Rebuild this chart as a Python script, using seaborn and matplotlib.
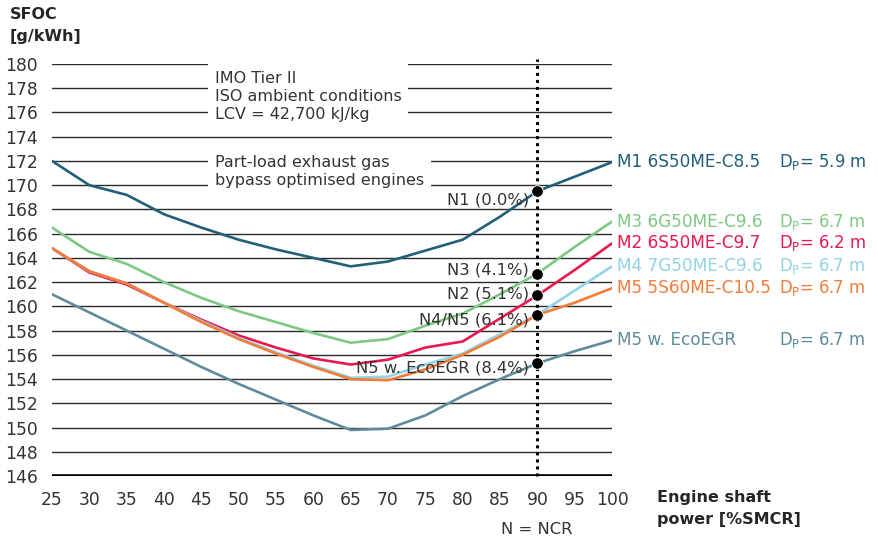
import numpy as np
import pandas as pd
import seaborn as sns
import matplotlib
matplotlib.use("Agg")
import matplotlib.pyplot as plt

### data

load = [25, 30, 35, 40, 45, 50, 55, 60, 65, 70, 75, 80, 85, 90, 95, 100]

m1 = [172.0, 170.0, 169.2, 167.6, 166.5, 165.5, 164.7, 164.0, 163.3, 163.7, 164.6, 165.5, 167.4, 169.5, 170.7, 171.9]
m3 = [166.5, 164.5, 163.5, 162.0, 160.7, 159.6, 158.7, 157.8, 157.0, 157.3, 158.4, 159.4, 161.0, 162.7, 164.9, 167.0]
m2 = [164.8, 162.8, 161.8, 160.3, 158.9, 157.6, 156.6, 155.7, 155.2, 155.6, 156.6, 157.1, 159.0, 160.9, 163.0, 165.2]
m4 = [164.8, 162.9, 161.9, 160.3, 158.8, 157.4, 156.2, 155.1, 154.1, 154.2, 155.2, 156.1, 157.7, 159.3, 161.3, 163.3]
m5 = [164.8, 162.9, 161.9, 160.3, 158.7, 157.3, 156.1, 155.0, 154.0, 153.9, 154.8, 156.0, 157.5, 159.3, 160.3, 161.5]
egr = [161.0, 159.5, 158.0, 156.5, 155.0, 153.6, 152.3, 151.0, 149.8, 149.9, 151.0, 152.6, 154.0, 155.3, 156.3, 157.2]

names = ["M1 6S50ME-C8.5", "M3 6G50ME-C9.6", "M2 6S50ME-C9.7",
         "M4 7G50ME-C9.6", "M5 5S60ME-C10.5", "M5 w. EcoEGR"]
dp = ["5.9", "6.7", "6.2", "6.7", "6.7", "6.7"]
colors = ["#22607a", "#7dc882", "#e8194f", "#92d3e4", "#f47b3a", "#5f8c9c"]

ncr_labels = ["N1 (0.0%)", "N3 (4.1%)", "N2 (5.1%)", "N4/N5 (6.1%)", "N5 w. EcoEGR (8.4%)"]
ncr_values = [169.5, 162.65, 160.95, 159.25, 155.3]
ncr_text_y = [168.8, 163.0, 161.0, 158.9, 154.9]

yticks = list(range(146, 181, 2))
xticks = list(range(25, 101, 5))

rows = []
for nm, vals in zip(names, [m1, m3, m2, m4, m5, egr]):
    for x, v in zip(load, vals):
        rows.append({"load": x, "sfoc": v, "engine": nm})
df = pd.DataFrame(rows)

sns.set_style("white")
plt.rcParams['font.family'] = ['DejaVu Sans']
plt.rcParams['mathtext.fontset'] = 'dejavusans'
txt = "#333333"

fig = plt.figure(figsize=(8.79, 5.42), dpi=100)
ax = fig.add_axes([52/879, 1-476/542, 560/879, 412/542])

# grid lines
for yv in yticks[1:]:
    ax.axhline(yv, color="#2b2b2b", lw=1.0, zorder=1)
ax.axhline(146, color="black", lw=2.6, zorder=1)

sns.lineplot(data=df, x="load", y="sfoc", hue="engine", palette=colors,
             hue_order=names, lw=1.9, legend=False, ax=ax, zorder=3)

ax.plot([90, 90], [146, 180.4], color="black", ls=(0, (1, 1.3)), lw=2.2, zorder=4, clip_on=False)
sns.scatterplot(x=[90]*len(ncr_values), y=ncr_values, color="black", s=70, ax=ax, zorder=5, legend=False)

for lab, ty in zip(ncr_labels, ncr_text_y):
    ax.text(88.9, ty, lab, ha="right", va="center", fontsize=11.8, color=txt, zorder=4)

ax.set_xlim(25, 100)
ax.set_ylim(146, 180)
ax.set_xticks(xticks)
ax.set_yticks(yticks)
ax.tick_params(axis="both", length=0, labelsize=12.3, colors=txt)
ax.tick_params(axis="y", pad=10)
ax.tick_params(axis="x", pad=11)
for s in ax.spines.values():
    s.set_visible(False)
ax.set_xlabel("")
ax.set_ylabel("")

# note box covering grid lines
ax.text(46.8, 179.4, "IMO Tier II\nISO ambient conditions\nLCV = 42,700 kJ/kg",
        ha="left", va="top", fontsize=11.5, color=txt, linespacing=1.25, zorder=2,
        bbox=dict(facecolor="white", edgecolor="none", pad=5))
ax.text(46.8, 172.5, "Part-load exhaust gas\nbypass optimised engines",
        ha="left", va="top", fontsize=11.5, color=txt, linespacing=1.25, zorder=2,
        bbox=dict(facecolor="white", edgecolor="none", pad=5))

# series labels on the right
ends = [m1[-1], m3[-1], m2[-1], m4[-1], m5[-1], egr[-1]]
for nm, d, c, yv in zip(names, dp, colors, ends):
    ax.text(100.7, yv, nm, ha="left", va="center", fontsize=12.2, color=c, clip_on=False)
    ax.text(122.4, yv, r"D$_\mathregular{P}$= " + d + " m", ha="left", va="center",
            fontsize=11.9, color=c, clip_on=False)

fig.text(10/879, 1-7/542, "SFOC\n[g/kWh]", ha="left", va="top", fontsize=11.5,
         fontweight="bold", linespacing=1.55)
fig.text(657/879, 1-490/542, "Engine shaft\npower [%SMCR]", ha="left", va="top",
         fontsize=11.5, fontweight="bold", linespacing=1.6)
fig.text(537/879, 1-530/542, "N = NCR", ha="center", va="center", fontsize=11.8, color=txt)

fig.savefig("out.png", dpi=100)
